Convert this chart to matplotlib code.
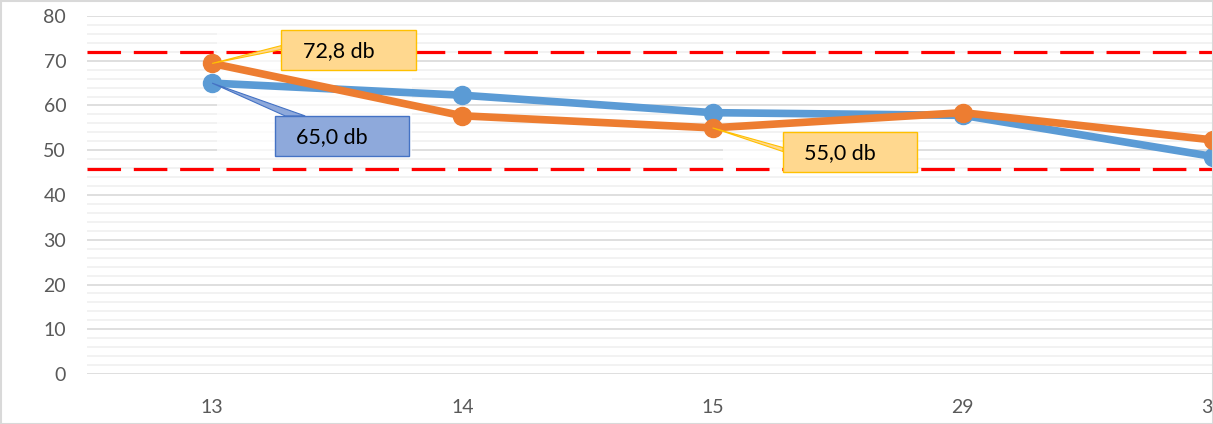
import matplotlib.pyplot as plt
from matplotlib.patches import Rectangle, Polygon

plt.rcParams["font.family"] = ["Lato", "DejaVu Sans"]

categories = ["13", "14", "15", "29", "30"]
blue_values = [65.0, 62.3, 58.4, 57.8, 48.6]
orange_values = [69.4, 57.7, 55.0, 58.4, 52.3]
upper_limit = 72.0
lower_limit = 45.9
callouts = [
    # text, series index, point index, fill, edge
    ("72,8 db", 1, 0, "#FFD88F", "#FFC000"),
    ("65,0 db", 0, 0, "#8EA9DB", "#4472C4"),
    ("55,0 db", 1, 2, "#FFD88F", "#FFC000"),
]
callout_centers = [(0.545, 72.5), (0.52, 53.2), (2.55, 49.7)]

W, H = 1213, 424
fig = plt.figure(figsize=(W / 100, H / 100), dpi=100)
ax = fig.add_axes([87 / W, (H - 374) / H, (W - 87) / W, 358 / H])

x = list(range(len(categories)))
ax.set_xlim(-0.5, 4.0)
ax.set_ylim(0, 80)

# gridlines
for v in range(0, 81, 2):
    if v % 10 == 0:
        ax.axhline(v, color="#D9D9D9", lw=1.2, zorder=1)
    else:
        ax.axhline(v, color="#F0F0F0", lw=1.2, zorder=0.9)

# faded areas behind the labels
px_x = 4.5 / 1125  # data units per pixel (x)
px_y = 80 / 358
ax.add_patch(Rectangle((0.02, 49.5), 0.78, 27.7, color="white", alpha=0.75, zorder=1.5, lw=0))
ax.add_patch(Rectangle((2.04, 45.0), 0.28, 5.2, color="white", alpha=0.75, zorder=1.5, lw=0))

for lim in (upper_limit, lower_limit):
    ax.axhline(lim, color="#FF0000", lw=2.3, dashes=(10.5, 4), zorder=2)

series = [blue_values, orange_values]
colors = ["#5B9BD5", "#ED7D31"]
for vals, c in zip(series, colors):
    ax.plot(x, vals, color=c, lw=5.5, marker="o", markersize=13, zorder=3,
            solid_joinstyle="round", clip_on=False)

bw, bh = 134 * px_x, 40 * px_y
for (txt, si, pi, fc, ec), (cx, cy) in zip(callouts, callout_centers):
    px, py = x[pi], series[si][pi]
    if cy < py and pi == 0:
        # wedge to box top
        tip = [(px, py), (cx - bw / 2 + 10 * px_x, cy + bh / 2), (cx - bw / 2 + 30 * px_x, cy + bh / 2)]
    else:
        tip = [(px, py), (cx - bw / 2, cy + 4 * px_y), (cx - bw / 2, cy)]
    ax.add_patch(Polygon(tip, closed=True, facecolor=fc, edgecolor=ec, lw=0.8, zorder=4))
    ax.add_patch(Rectangle((cx - bw / 2, cy - bh / 2), bw, bh, facecolor=fc,
                           edgecolor=ec, lw=1.0, zorder=5))
    ax.text(cx - 10 * px_x, cy - 1.5 * px_y, txt, ha="center", va="center", fontsize=15.5,
            color="black", zorder=6)

ax.set_xticks(x)
ax.set_xticklabels(categories)
ax.set_yticks(range(0, 81, 10))
ax.tick_params(axis="both", length=0, labelsize=14, labelcolor="#595959")
ax.tick_params(axis="x", pad=18)
ax.tick_params(axis="y", pad=15)
for s in ax.spines.values():
    s.set_visible(False)

fig.add_artist(Rectangle((0.5 / W, 0.5 / H), 1 - 1 / W, 1 - 1 / H, transform=fig.transFigure,
                         fill=False, edgecolor="#D9D9D9", lw=1.5))

fig.savefig("out.png", dpi=100)
